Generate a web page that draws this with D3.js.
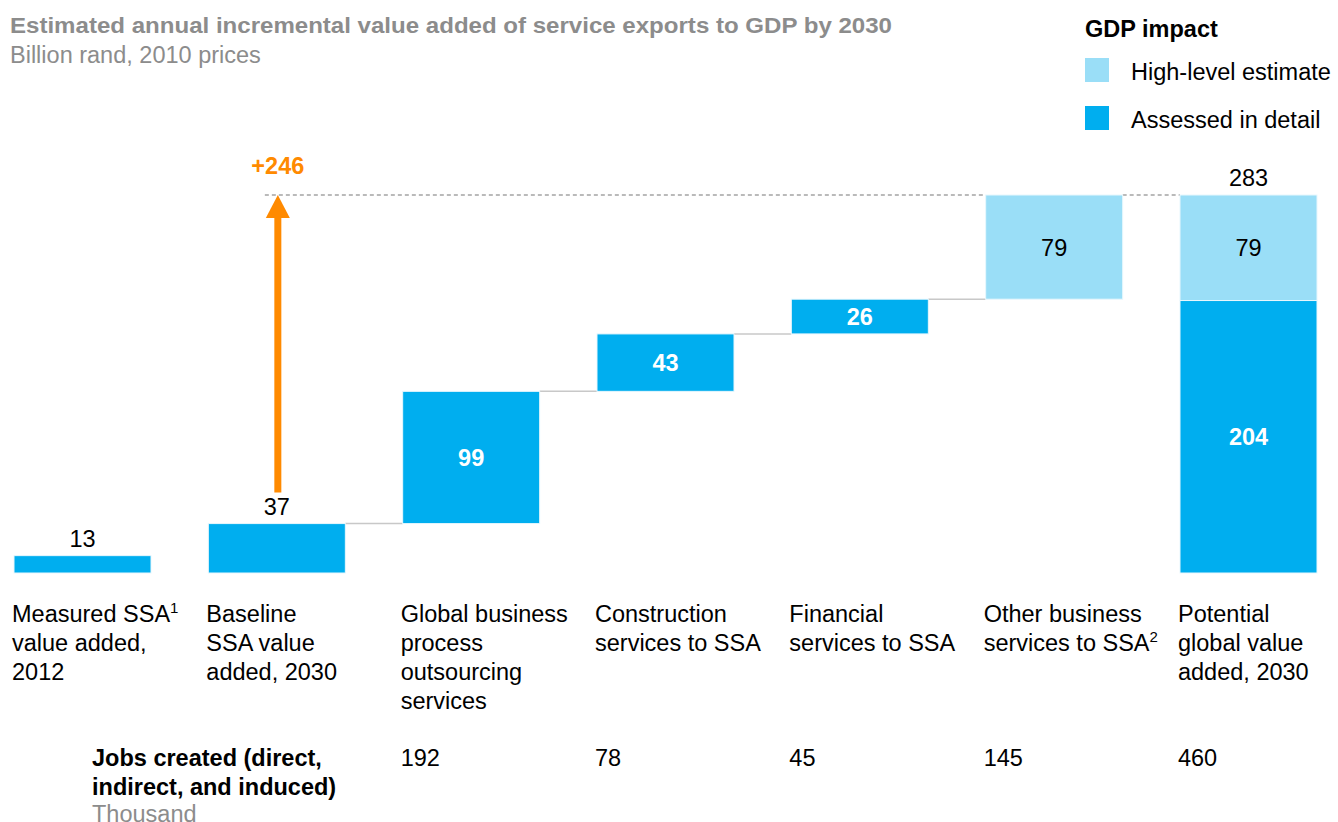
<!DOCTYPE html>
<html><head><meta charset="utf-8">
<script src="https://cdn.jsdelivr.net/npm/d3@7"></script>
<style>body{margin:0;background:#fff;} svg{display:block;font-family:"Liberation Sans",Arial,sans-serif;}</style>
</head><body>
<svg id="c" width="1338" height="822"></svg>
<script>
const categories = [
  ["Measured SSA|1", "value added,", "2012"],
  ["Baseline", "SSA value", "added, 2030"],
  ["Global business", "process", "outsourcing", "services"],
  ["Construction", "services to SSA"],
  ["Financial", "services to SSA"],
  ["Other business", "services to SSA|2"],
  ["Potential", "global value", "added, 2030"]
];
const keys = ["m2012","b2030","gbpo","constr","fin","other","pot"];
const kinds = ["total","total","step","step","step","step","total"];
const assessed = [13, 37, 99, 43, 26, 0, 204];
const highLevel = [0, 0, 0, 0, 0, 79, 79];
const totalLabels = ["13","37",null,null,null,null,"283"];
const jobs = [null, null, 192, 78, 45, 145, 460];
const increase = 246;
const colors = {assessed:"#00AEEF", high:"#9ADEF7", orange:"#FF8A00", grey:"#8C8C8C"};
const FS = 23.5;

const svg = d3.select("#c");
const x = d3.scaleBand().domain(keys).range([14, 1317]).paddingInner(0.295).paddingOuter(0);
const y = d3.scaleLinear().domain([0, 283]).range([573, 195]);

let cum = 0; const segs = [];
keys.forEach((k,i)=>{
  const tot = assessed[i]+highLevel[i];
  let base;
  if (kinds[i]==="total") { base = 0; cum = tot; }
  else { base = cum; cum += tot; }
  if (assessed[i]>0) segs.push({k, y0:base, y1:base+assessed[i], type:"assessed", v:assessed[i], i});
  if (highLevel[i]>0) segs.push({k, y0:base+assessed[i], y1:Math.min(base+tot,283), type:"high", v:highLevel[i], i});
});

const tops = keys.map((k,i)=>{
  const s = segs.filter(d=>d.k===k); return d3.max(s,d=>d.y1);
});
const conn = [];
for (let i=1;i<keys.length-2;i++) conn.push({from:i, to:i+1, v:tops[i]});
svg.selectAll("line.conn").data(conn).join("line")
  .attr("x1",d=>x(keys[d.from])+x.bandwidth()).attr("x2",d=>x(keys[d.to]))
  .attr("y1",d=>y(d.v)).attr("y2",d=>y(d.v))
  .attr("stroke","#c8c8c8").attr("stroke-width",1.5);

const topV = 283;
svg.append("line").attr("x1",x(keys[1])+x.bandwidth()/2-12).attr("x2",x(keys[5]))
  .attr("y1",y(topV)).attr("y2",y(topV)).attr("stroke","#777").attr("stroke-width",1.2).attr("stroke-dasharray","4,3");
svg.append("line").attr("x1",x(keys[5])+x.bandwidth()).attr("x2",x(keys[6]))
  .attr("y1",y(topV)).attr("y2",y(topV)).attr("stroke","#777").attr("stroke-width",1.2).attr("stroke-dasharray","4,3");

svg.selectAll("rect.bar").data(segs).join("rect")
  .attr("x",d=>x(d.k)).attr("width",x.bandwidth())
  .attr("y",d=>y(d.y1)).attr("height",d=>y(d.y0)-y(d.y1))
  .attr("fill",d=>d.type==="assessed"?colors.assessed:colors.high)
  .attr("stroke","#e8f7fd").attr("stroke-width",1);

svg.selectAll("text.inner").data(segs.filter(d=>kinds[d.i]!=="total"||d.k==="pot")).join("text")
  .attr("x",d=>x(d.k)+x.bandwidth()/2).attr("y",d=>(y(d.y0)+y(d.y1))/2+8.5)
  .attr("text-anchor","middle").attr("font-size",FS)
  .attr("font-weight",d=>d.type==="assessed"?"bold":"normal")
  .attr("fill",d=>d.type==="assessed"?"#fff":"#000")
  .text(d=>d.v);

svg.selectAll("text.tot").data(keys.map((k,i)=>({k,i})).filter(d=>totalLabels[d.i])).join("text")
  .attr("x",d=>x(d.k)+x.bandwidth()/2).attr("y",d=>y(tops[d.i])-9)
  .attr("text-anchor","middle").attr("font-size",FS).attr("fill","#000")
  .text(d=>totalLabels[d.i]);

const ax = x(keys[1])+x.bandwidth()/2+1;
const aTop = y(tops[1]+increase);
svg.append("line").attr("x1",ax).attr("x2",ax).attr("y1",y(tops[1])-31).attr("y2",aTop+20)
  .attr("stroke",colors.orange).attr("stroke-width",7);
svg.append("path").attr("d",`M${ax-12},${aTop+23}L${ax},${aTop}L${ax+12},${aTop+23}Z`).attr("fill",colors.orange);
svg.append("text").attr("x",ax).attr("y",aTop-21.5).attr("text-anchor","middle")
  .attr("font-size",FS).attr("font-weight","bold").attr("fill",colors.orange).text("+"+increase);

keys.forEach((k,i)=>{
  const t = svg.append("text").attr("x",x(k)-2).attr("y",621.5).attr("font-size",FS).attr("fill","#000");
  categories[i].forEach((line,j)=>{
    const parts = line.split("|");
    t.append("tspan").attr("x",x(k)-2).attr("dy",j===0?0:29).text(parts[0]);
    if (parts[1]) {
      t.append("tspan").attr("font-size",15).attr("dy",-9).text(parts[1]);
      t.append("tspan").attr("font-size",1).attr("dy",9).text(" ");
    }
  });
});

svg.append("text").attr("x",92).attr("y",765.5).attr("font-size",FS).attr("font-weight","bold").text("Jobs created (direct,");
svg.append("text").attr("x",92).attr("y",794.5).attr("font-size",FS).attr("font-weight","bold").text("indirect, and induced)");
svg.append("text").attr("x",92).attr("y",821.5).attr("font-size",FS).attr("fill",colors.grey).text("Thousand");
svg.selectAll("text.jobs").data(keys.map((k,i)=>({k,v:jobs[i]})).filter(d=>d.v!=null)).join("text")
  .attr("x",d=>x(d.k)-2).attr("y",765.5).attr("font-size",FS).text(d=>d.v);

svg.append("text").attr("x",10).attr("y",33).attr("font-size",22.5).attr("font-weight","bold").attr("fill",colors.grey)
  .attr("textLength",882).attr("lengthAdjust","spacingAndGlyphs")
  .text("Estimated annual incremental value added of service exports to GDP by 2030");
svg.append("text").attr("x",10).attr("y",63).attr("font-size",FS).attr("fill",colors.grey)
  .text("Billion rand, 2010 prices");

svg.append("text").attr("x",1085).attr("y",36.5).attr("font-size",FS).attr("font-weight","bold").text("GDP impact");
const leg = [{l:"High-level estimate",c:colors.high,y:58},{l:"Assessed in detail",c:colors.assessed,y:106}];
leg.forEach(d=>{
  svg.append("rect").attr("x",1085).attr("y",d.y).attr("width",24).attr("height",24).attr("fill",d.c);
  svg.append("text").attr("x",1131).attr("y",d.y+21.5).attr("font-size",FS).text(d.l);
});
</script>
</body></html>
